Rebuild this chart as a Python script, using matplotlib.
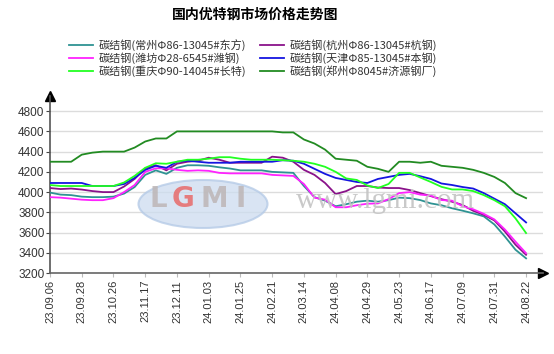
import numpy as np
import matplotlib
matplotlib.use("Agg")
import matplotlib.pyplot as plt
from matplotlib.patches import Ellipse

plt.rcParams['font.family'] = ['Noto Sans CJK SC', 'DejaVu Sans']

title = "国内优特钢市场价格走势图"
tick_labels = ["23.09.06", "23.09.28", "23.10.26", "23.11.17", "23.12.11", "24.01.03",
               "24.01.25", "24.02.21", "24.03.14", "24.04.08", "24.04.29", "24.05.23",
               "24.06.17", "24.07.09", "24.07.31", "24.08.22"]
# trading-day index of each sample (every 5 trading days)
days = list(range(0, 226, 5))

changzhou = [3995, 3975, 3970, 3955, 3950, 3950, 3955, 3985, 4050, 4170, 4215, 4180,
             4240, 4265, 4265, 4260, 4245, 4233, 4215, 4215, 4215, 4200, 4195, 4190,
             4060, 3950, 3915, 3860, 3880, 3905, 3915, 3905, 3920, 3945, 3940, 3921,
             3888, 3870, 3840, 3816, 3790, 3760, 3680, 3560, 3430, 3345]
hangzhou = [4040, 4030, 4035, 4025, 4010, 4000, 4000, 4055, 4130, 4235, 4265, 4215,
            4280, 4300, 4310, 4340, 4320, 4290, 4290, 4290, 4290, 4350, 4340, 4300,
            4220, 4170, 4090, 3980, 4010, 4060, 4060, 4045, 4040, 4040, 4020, 3990,
            3960, 3930, 3905, 3872, 3815, 3775, 3720, 3610, 3480, 3380]
weifang = [3950, 3945, 3935, 3925, 3920, 3920, 3940, 4000, 4070, 4200, 4235, 4235,
           4220, 4210, 4215, 4210, 4190, 4185, 4185, 4185, 4185, 4170, 4165, 4160,
           4080, 3945, 3925, 3850, 3850, 3870, 3885, 3888, 3930, 3990, 4000, 3975,
           3965, 3921, 3915, 3860, 3830, 3785, 3730, 3630, 3510, 3396]
tianjin = [4090, 4090, 4090, 4090, 4060, 4060, 4060, 4080, 4140, 4220, 4260, 4240,
           4300, 4310, 4300, 4290, 4290, 4290, 4300, 4300, 4300, 4300, 4315, 4310,
           4280, 4230, 4180, 4140, 4120, 4100, 4090, 4130, 4150, 4170, 4180, 4157,
           4130, 4085, 4070, 4050, 4035, 3990, 3935, 3880, 3790, 3700]
chongqing = [4070, 4060, 4060, 4060, 4060, 4060, 4060, 4095, 4160, 4240, 4285, 4280,
             4300, 4320, 4320, 4330, 4345, 4345, 4330, 4320, 4320, 4320, 4315, 4310,
             4300, 4280, 4250, 4200, 4135, 4120, 4065, 4040, 4080, 4190, 4190, 4144,
             4100, 4052, 4026, 4026, 4010, 3970, 3920, 3860, 3740, 3595]
zhengzhou = [4300, 4300, 4300, 4370, 4390, 4400, 4400, 4400, 4440, 4500, 4530, 4530,
             4600, 4600, 4600, 4600, 4600, 4600, 4600, 4600, 4600, 4600, 4590, 4590,
             4520, 4480, 4420, 4330, 4320, 4310, 4250, 4230, 4200, 4300, 4300, 4290,
             4300, 4260, 4250, 4240, 4220, 4190, 4150, 4090, 3990, 3940]

series = [
    ("碳结钢(常州Φ86-13045#东方)", changzhou, "#2f9393"),
    ("碳结钢(杭州Φ86-13045#杭钢)", hangzhou, "#8a128a"),
    ("碳结钢(潍坊Φ28-6545#潍钢)", weifang, "#ff22ff"),
    ("碳结钢(天津Φ85-13045#本钢)", tianjin, "#1515e0"),
    ("碳结钢(重庆Φ90-14045#长特)", chongqing, "#22ff22"),
    ("碳结钢(郑州Φ8045#济源钢厂)", zhengzhou, "#228b22"),
]

W, H = 554, 354
fig = plt.figure(figsize=(W / 100, H / 100), dpi=100)
ax = fig.add_axes([50 / W, 1 - 273 / H, (543 - 50) / W, (273 - 96) / H])

# watermark (logo + site name)
logo = Ellipse((203, H - 204), 129, 48, transform=None, facecolor="#cddcef",
               edgecolor="#b3c9e6", lw=1.5, alpha=0.75, zorder=0.5)
fig.patches.append(logo)
for ch, xc, col in [("L", 158, "#bdb6b6"), ("G", 183, "#e86a6a"),
                    ("M", 214, "#bdb6b6"), ("I", 241, "#bdb6b6")]:
    fig.text(xc / W, 1 - 199 / H, ch, ha="center", va="center", fontsize=20,
             fontweight="bold", color=col, alpha=0.85, family="DejaVu Sans", zorder=0.6)
fig.text(385 / W, 1 - 201 / H, "www.lgmi.com", ha="center", va="center", fontsize=21,
         color="#c4c4c4", alpha=0.9, family="Liberation Serif", zorder=0.6)
ax.patch.set_alpha(0)

order = [0, 2, 4, 1, 3, 5]
handles = {}
for i, (name, vals, col) in enumerate(series):
    ln, = ax.plot(days, vals, color=col, lw=1.3, zorder=3 + i, label=name)
    handles[i] = ln

ax.set_xlim(0, 233)
ax.set_ylim(3200, 4950)
ax.set_yticks(np.arange(3200, 4801, 200))
ax.set_yticklabels([str(v) for v in range(3200, 4801, 200)], fontsize=8.5, color="#333333",
                   family="Liberation Sans")
ax.set_xticks(np.arange(len(tick_labels)) * 15)
ax.set_xticklabels(tick_labels, rotation=90, fontsize=8, color="#333333",
                   family="Liberation Sans")
ax.tick_params(axis="y", length=3, width=0.8, color="#444444", pad=1)
ax.tick_params(axis="x", length=3, width=0.8, color="#bbbbbb", pad=2)
ax.grid(axis="y", color="#dcdcdc", lw=1)
ax.set_axisbelow(True)
for s in ["top", "right"]:
    ax.spines[s].set_visible(False)
ax.spines["left"].set_color("#555555")
ax.spines["bottom"].set_color("#666666")
ax.spines["left"].set_linewidth(1.2)
ax.spines["bottom"].set_linewidth(1.2)
ax.plot([0], [1], marker="^", color="black", markersize=7, transform=ax.transAxes, clip_on=False)
ax.plot([1], [0], marker=">", color="black", markersize=7, transform=ax.transAxes, clip_on=False)

fig.text(255 / W, 1 - 15 / H, title, ha="center", va="center", fontsize=10, fontweight="bold")
leg = fig.legend([handles[i] for i in order], [series[i][0] for i in order], ncol=2,
                 loc="center", bbox_to_anchor=(253 / W, 1 - 58 / H), frameon=False,
                 fontsize=8, handlelength=2.2, columnspacing=1.2, labelspacing=0.15,
                 handletextpad=0.5)
for t in leg.get_texts():
    t.set_color("#333333")

fig.savefig("out.png", dpi=100)
